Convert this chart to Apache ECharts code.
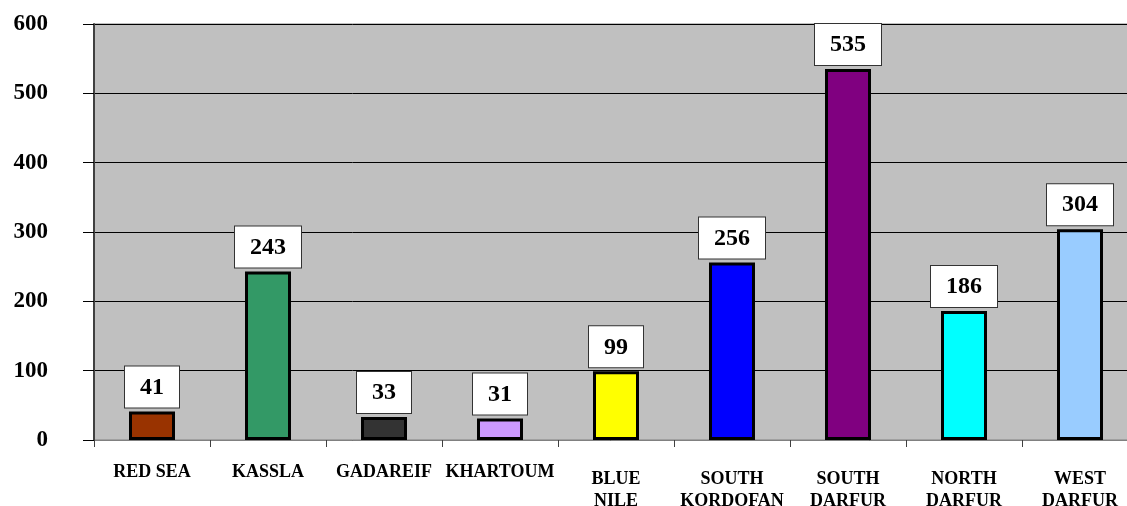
<!DOCTYPE html>
<html>
<head>
<meta charset="utf-8">
<script src="https://cdn.jsdelivr.net/npm/echarts@6/dist/echarts.min.js"></script>
<style>
html,body{margin:0;padding:0;background:#fff;}
#c{width:1127px;height:506px;}
</style>
</head>
<body>
<div id="c"></div>
<script>
const categories = ['RED SEA', 'KASSLA', 'GADAREIF', 'KHARTOUM', 'BLUE\nNILE', 'SOUTH\nKORDOFAN', 'SOUTH\nDARFUR', 'NORTH\nDARFUR', 'WEST\nDARFUR'];
const values = [41, 243, 33, 31, 99, 256, 535, 186, 304];
const barColors = ['#993300', '#339966', '#333333', '#CC99FF', '#FFFF00', '#0000FF', '#800080', '#00FFFF', '#99CCFF'];
const yTicks = [0, 100, 200, 300, 400, 500, 600];

const FONT = '"Liberation Serif", "Times New Roman", serif';
const chart = echarts.init(document.getElementById('c'));
chart.setOption({
  animation: false,
  backgroundColor: '#ffffff',
  grid: {
    left: 94, top: 24, height: 416, width: 1044,
    outerBoundsMode: 'none',
    containLabel: false,
    show: true, backgroundColor: '#C0C0C0', borderColor: '#808080', borderWidth: 1
  },
  xAxis: {
    type: 'category',
    data: categories,
    axisLine: { lineStyle: { color: '#808080', width: 1 } },
    axisTick: { show: true, length: 7, lineStyle: { color: '#404040' } },
    axisLabel: {
      margin: 28,
      interval: 0,
      hideOverlap: false,
      formatter: function (v) {
        return v.indexOf('\n') >= 0
          ? v.split('\n').map(s => '{m|' + s + '}').join('\n')
          : '{s|' + v + '}';
      },
      rich: {
        s: { fontFamily: FONT, fontWeight: 'bold', fontSize: 18, color: '#000', lineHeight: 8 },
        m: { fontFamily: FONT, fontWeight: 'bold', fontSize: 18, color: '#000', lineHeight: 22 }
      }
    }
  },
  yAxis: {
    type: 'value',
    min: yTicks[0], max: yTicks[yTicks.length - 1], interval: 100,
    axisLine: { show: true, lineStyle: { color: '#404040', width: 2 } },
    axisTick: { show: true, length: 11, lineStyle: { color: '#000' } },
    splitLine: { show: true, lineStyle: { color: '#000', width: 1 } },
    axisLabel: {
      margin: 46,
      fontFamily: FONT, fontWeight: 'bold', fontSize: 23, color: '#000'
    }
  },
  series: [{
    type: 'bar',
    barWidth: 46,
    data: values.map((v, i) => ({
      value: v,
      itemStyle: { color: barColors[i] }
    })),
    itemStyle: { borderColor: '#000', borderWidth: 3 },
    label: {
      show: true,
      position: 'top',
      distance: 4,
      fontFamily: FONT, fontWeight: 'bold', fontSize: 24, color: '#000',
      backgroundColor: '#fff',
      borderColor: '#333', borderWidth: 1,
      padding: [9, 15, 8, 15],
      lineHeight: 24
    }
  }]
});
</script>
</body>
</html>
